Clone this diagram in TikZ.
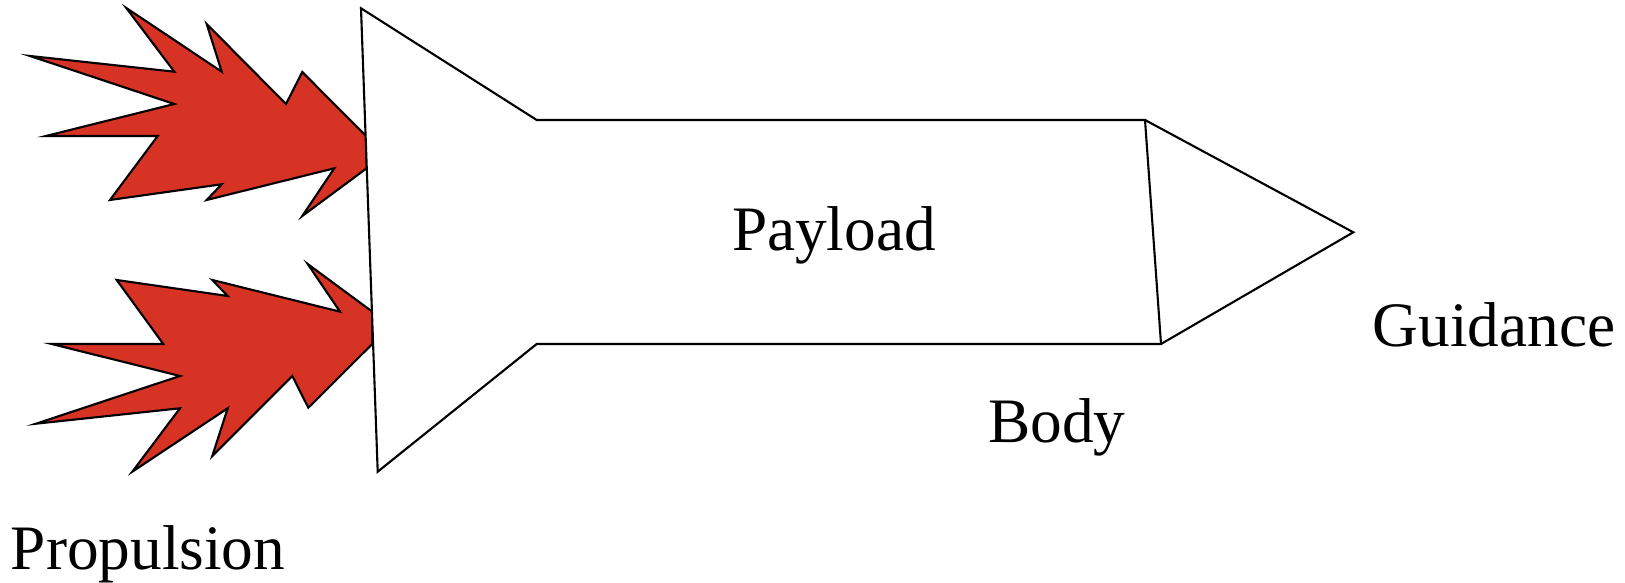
\documentclass[tikz,border=0pt]{standalone}
\usepackage{fontspec}
\setmainfont{Liberation Serif}
\usepackage{tikz}
\definecolor{flamered}{RGB}{215,51,36}
\tikzset{
	flame/.style={draw=black, fill=flamered, line width=0.6pt, line join=miter},
	hull/.style={draw=black, line width=0.6pt},
	lbl/.style={anchor=base, inner sep=0pt, font=\fontsize{18}{21}\selectfont}
}

\begin{document}
\begin{tikzpicture}[x=0.01cm, y=-0.01cm]
		%%%%% START %%%%%
		\useasboundingbox (0, 0) rectangle (1625, 583);
		
		% upper exhaust
		\draw[flame] (126.3, 8) -- (174.3, 71.7) -- (30, 56) -- (174.3, 104)
			-- (46, 136) -- (157.7, 136) -- (110, 200) -- (221.7, 184.3)
			-- (206.7, 200) -- (334.3, 168.3) -- (302.3, 216) -- (366.7, 168.3)
			-- (366, 136) -- (302.3, 72) -- (286, 104) -- (206.7, 24)
			-- (221.7, 71.7) -- cycle;
		
		% lower exhaust
		\draw[flame] (116.7, 280) -- (227.7, 296) -- (212.3, 280) -- (340, 311.7)
			-- (307.7, 264) -- (372.3, 311.7) -- (372.3, 344) -- (308.3, 407.7)
			-- (292.3, 376) -- (212.3, 456) -- (227.7, 408.3) -- (132.3, 471.7)
			-- (180, 408.3) -- (36, 423.7) -- (180, 376) -- (51.7, 344)
			-- (163.3, 344) -- cycle;
		
		% tail fins and body
		\draw[hull, fill=white] (361, 8.3) -- (536.7, 120) -- (1145, 120)
			-- (1161, 344) -- (536.7, 344) -- (377.7, 471.7) -- cycle;
		
		% nose cone
		\draw[hull] (1145, 120) -- (1353.3, 232.3) -- (1161, 344);
		
		\node[lbl] (payload) at (834, 251) {Payload};
		\node[lbl] (body) at (1057, 443) {Body};
		\node[lbl] (guidance) at (1494, 347) {Guidance};
		\node[lbl] (propulsion) at (148, 570) {Propulsion};
		
		%%%%% END %%%%%
	\end{tikzpicture}
\end{document}
